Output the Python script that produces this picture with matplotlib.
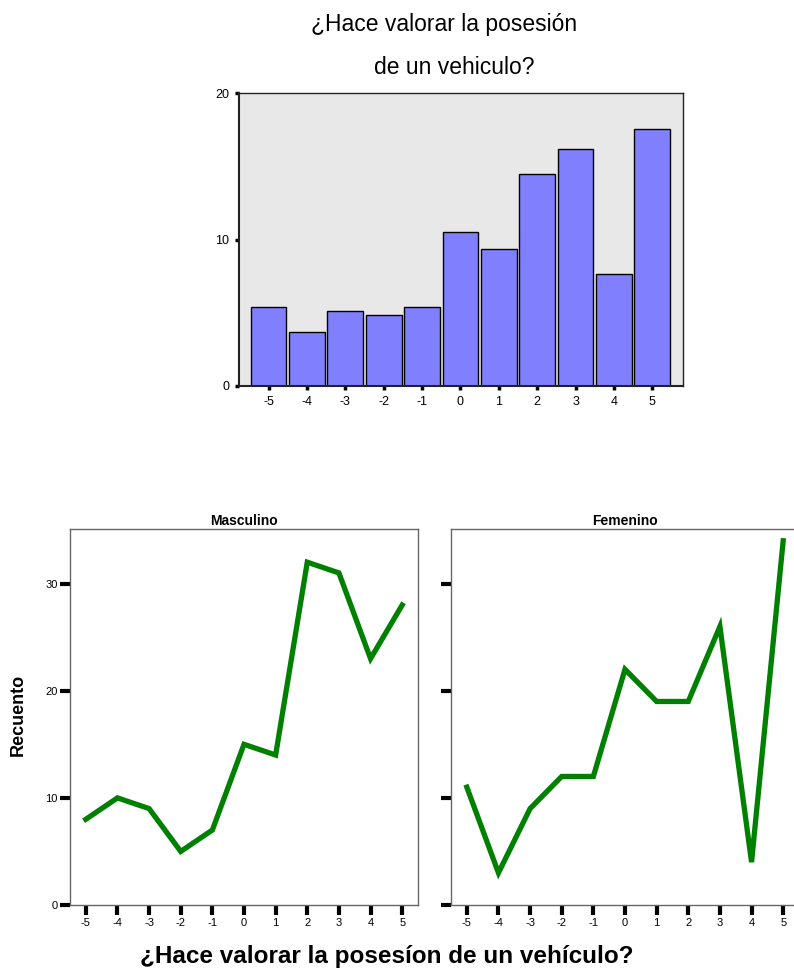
import matplotlib.pyplot as plt

plt.rcParams["font.family"] = ["Liberation Sans", "DejaVu Sans"]
plt.rcParams["axes.unicode_minus"] = False

categories = [-5, -4, -3, -2, -1, 0, 1, 2, 3, 4, 5]
# top histogram: percent of total
percent = [5.38, 3.68, 5.10, 4.82, 5.38, 10.48, 9.35, 14.45, 16.15, 7.65, 17.56]
# bottom panels: counts by sex
masculino = [8, 10, 9, 5, 7, 15, 14, 32, 31, 23, 28]
femenino = [11, 3, 9, 12, 12, 22, 19, 19, 26, 4, 34]

W, H = 794, 975
fig = plt.figure(figsize=(W / 100, H / 100), dpi=100)


def box(x0, y0, x1, y1):
    # pixel box -> figure fraction
    return [x0 / W, 1 - y1 / H, (x1 - x0) / W, (y1 - y0) / H]


# ---- top bar chart ----
ax = fig.add_axes(box(239, 93, 683, 386))
ax.set_facecolor("#e8e8e8")
ax.bar(categories, percent, width=0.93, color="#8080ff", edgecolor="black", linewidth=1)
ax.set_xlim(-5.77, 5.8)
ax.set_ylim(0, 20)
ax.set_yticks([0, 10, 20])
ax.set_xticks(categories)
ax.tick_params(axis="both", length=3, width=2.5, labelsize=9, pad=4)
for s in ax.spines.values():
    s.set_color("#222222")
    s.set_linewidth(1)
ax.spines["left"].set_linewidth(1.5)
ax.spines["bottom"].set_linewidth(1.5)
fig.text(444 / W, 1 - 25 / H, "¿Hace valorar la posesión", ha="center", va="center", fontsize=16.5)
fig.text(454 / W, 1 - 68 / H, "de un vehiculo?", ha="center", va="center", fontsize=16.5)

# ---- bottom line panels ----
panels = [("Masculino", masculino, box(70, 529, 418, 905), True),
          ("Femenino", femenino, box(451, 529, 799, 905), False)]
for title, values, pos, show_labels in panels:
    a = fig.add_axes(pos)
    a.plot(categories, values, color="#008000", linewidth=3.8, solid_joinstyle="miter")
    a.set_xlim(-5.5, 5.5)
    a.set_ylim(0, 35.1)
    a.set_xticks(categories)
    a.set_yticks([0, 10, 20, 30])
    a.tick_params(axis="both", length=7, width=3, labelsize=8, pad=2)
    if not show_labels:
        a.set_yticklabels([])
    for s in a.spines.values():
        s.set_color("#666666")
        s.set_linewidth(1)
    a.set_title(title, fontsize=10, fontweight="bold", pad=3)

fig.text(18 / W, 1 - 715 / H, "Recuento", rotation=90, ha="center", va="center",
         fontsize=13, fontweight="bold")
fig.text(387 / W, 1 - 957 / H, "¿Hace valorar la posesíon de un vehículo?", ha="center",
         va="center", fontsize=17.5, fontweight="bold")

fig.savefig("out.png", dpi=100)
